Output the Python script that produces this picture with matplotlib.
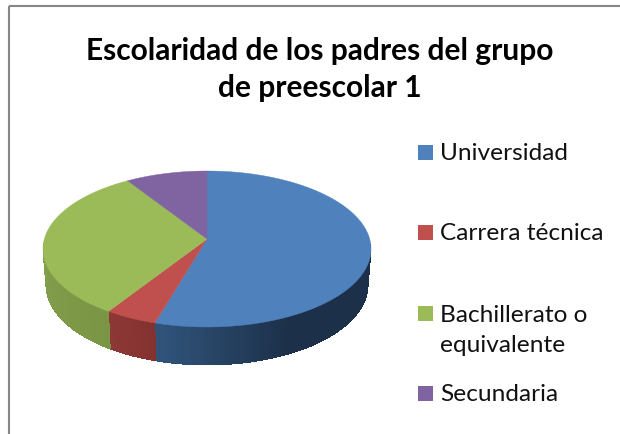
import numpy as np
import matplotlib
matplotlib.use("Agg")
import matplotlib.pyplot as plt
from matplotlib.patches import Polygon, Rectangle
from matplotlib.colors import to_rgb

title = "Escolaridad de los padres del grupo\nde preescolar 1"
categories = ["Universidad", "Carrera técnica", "Bachillerato o\nequivalente", "Secundaria"]
values = [12, 1, 7, 2]
colors = ["#4F81BD", "#C0504D", "#9BBB59", "#8064A2"]
side_left = ["#31557C", "#8C3836", "#8FA953", "#5E4A78"]
side_right = ["#1C3049", "#843230", "#7A9645", "#5E4A78"]
legend_y = [152.5, 232.5, 313.5, 393.5]

W, H = 620, 434
fig = plt.figure(figsize=(W / 100, H / 100), dpi=100)
ax = fig.add_axes([0, 0, 1, 1])
ax.set_xlim(0, W)
ax.set_ylim(H, 0)
ax.axis("off")
plt.rcParams["font.family"] = ["Lato", "DejaVu Sans"]

cx, cy, rx, ry, a = 207, 249, 164, 78, 0.128
bcy, brx, bry = 285, 161, 80


def project(theta):
    u, v = np.sin(theta), np.cos(theta)
    d = 1 + a * v
    X = u * np.sqrt(1 - a * a) / d
    Y = (v + a) / d
    return X, Y


fracs = np.cumsum([0] + values) / sum(values) * 2 * np.pi
apex = (cx, cy - a * ry)

# Side wall: shaded strips drawn from the far end so each overlaps the seam of the last
for i in range(len(values)):
    th = np.linspace(fracs[i], fracs[i + 1], 160)
    X, Y = project(th)
    c0, c1 = np.array(to_rgb(side_left[i])), np.array(to_rgb(side_right[i]))
    for j in range(len(th) - 2):
        if Y[j] > 0.05 and Y[j + 1] > 0.05:
            continue
        xm = 0.5 * (X[j] + X[j + 1])
        if i == 0:
            t = np.clip((xm * rx + cx - 155) / 135, 0, 1)
        else:
            t = 1 - (th[j] - th[0]) / (th[-1] - th[0])
        col = c0 + (c1 - c0) * t
        k = j + 2
        quad = [
            (cx + rx * X[j], cy - ry * Y[j]),
            (cx + rx * X[k], cy - ry * Y[k]),
            (cx + brx * X[k], bcy - bry * Y[k]),
            (cx + brx * X[j], bcy - bry * Y[j]),
        ]
        ax.add_patch(Polygon(quad, closed=True, fc=col, ec="none", antialiased=False))

# Top surface
for i in range(len(values)):
    th = np.linspace(fracs[i], fracs[i + 1], 200)
    X, Y = project(th)
    pts = [apex] + list(zip(cx + rx * X, cy - ry * Y))
    ax.add_patch(Polygon(pts, closed=True, fc=colors[i], ec=colors[i], lw=0.3))

# Frame
ax.add_patch(Rectangle((9, 6), 640, 460, fc="none", ec="#868686", lw=1.5, clip_on=True))

ax.text(320, 69.5, title, ha="center", va="center", fontsize=21.5, fontweight="bold",
        color="#000000", linespacing=1.39)

# Legend
for name, col, y in zip(categories, colors, legend_y):
    text_y = y + 17 if "\n" in name else y + 1
    ax.add_patch(Rectangle((418, y - 7.5), 15, 15, fc=col, ec="none"))
    ax.text(440, text_y, name, ha="left", va="center", fontsize=17.6, color="#111111",
            linespacing=1.52)

fig.savefig("out.png", dpi=100)
